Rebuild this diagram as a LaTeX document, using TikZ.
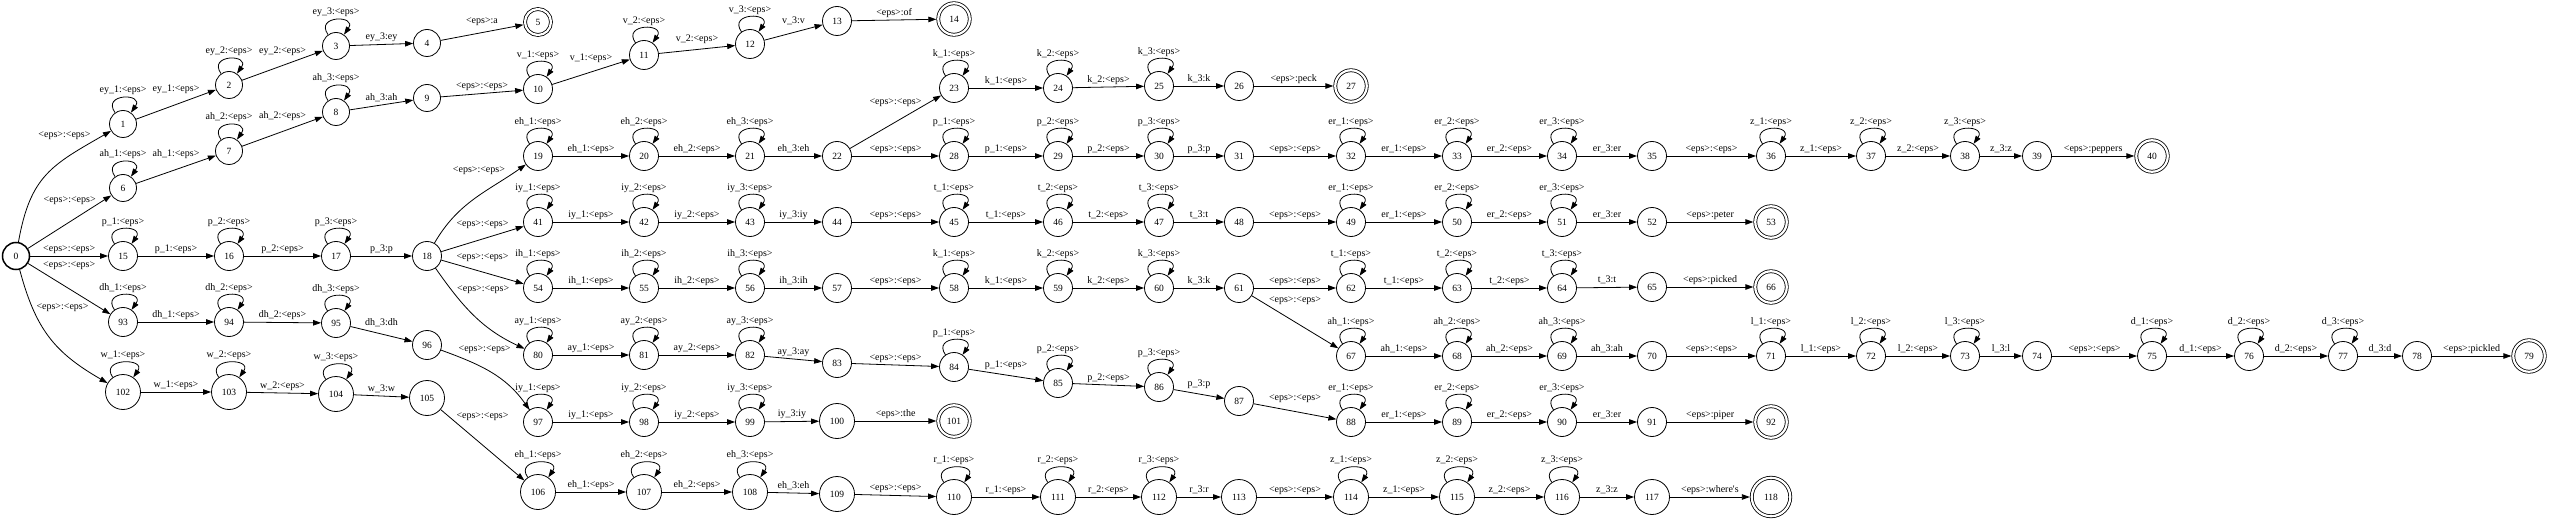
\documentclass[tikz,border=0pt]{standalone}
\usepackage{fontspec}
\setmainfont{Liberation Serif}
\usepackage{tikz}
\usetikzlibrary{arrows.meta}
\tikzset{
  st/.style = {circle, draw=black, inner sep=0pt, minimum size=29pt,
    font=\fontsize{9.5}{10}\selectfont},% plain state, two digits
  stsm/.style = {st, minimum size=27pt},% one digit
  stbig/.style = {st, minimum size=35pt},% three digits
  stinit/.style = {stsm, line width=1.5pt},% start state (bold ring)
  fin/.style = {st, double, double distance=2.2pt, outer sep=1.9pt,
    minimum size=31.5pt},% final state (double ring)
  lbl/.style = {font=\fontsize{10}{11}\selectfont, inner sep=0.5pt,
    text height=7pt, text depth=2pt, above=2pt},% arc label
  selfloop/.style = {out=125, in=55, min distance=24pt, max distance=24pt}% loop on top
}

\begin{document}
\begin{tikzpicture}[->,>={Triangle[length=8pt,width=5.5pt]},line width=0.8pt,x=1pt,y=1pt]
\useasboundingbox (0,-521) rectangle (2550,0);

% states
\node [stinit] (n0) at (16,-256) {0};
\node [stsm] (n1) at (123,-124) {1};
\node [stsm] (n2) at (229,-85) {2};
\node [stsm] (n3) at (336,-46) {3};
\node [stsm] (n4) at (427,-43) {4};
\node [fin, minimum size=26pt] (n5) at (538,-22) {5};
\node [stsm] (n6) at (123,-188) {6};
\node [stsm] (n7) at (229,-151) {7};
\node [stsm] (n8) at (336,-112) {8};
\node [stsm] (n9) at (427,-98) {9};
\node [st] (n10) at (538,-89) {10};
\node [st] (n11) at (644,-55) {11};
\node [st] (n12) at (750,-44) {12};
\node [st] (n13) at (837,-21) {13};
\node [fin] (n14) at (954,-19) {14};
\node [st] (n15) at (123,-256) {15};
\node [st] (n16) at (229,-256) {16};
\node [st] (n17) at (336,-256) {17};
\node [st] (n18) at (427,-256) {18};
\node [st] (n19) at (538,-156) {19};
\node [st] (n20) at (644,-156) {20};
\node [st] (n21) at (750,-156) {21};
\node [st] (n22) at (837,-156) {22};
\node [st] (n23) at (954,-88) {23};
\node [st] (n24) at (1058,-88) {24};
\node [st] (n25) at (1159,-86) {25};
\node [st] (n26) at (1239,-86) {26};
\node [fin] (n27) at (1351,-86) {27};
\node [st] (n28) at (954,-156) {28};
\node [st] (n29) at (1058,-156) {29};
\node [st] (n30) at (1159,-156) {30};
\node [st] (n31) at (1239,-156) {31};
\node [st] (n32) at (1351,-156) {32};
\node [st] (n33) at (1457,-156) {33};
\node [st] (n34) at (1562,-156) {34};
\node [st] (n35) at (1652,-156) {35};
\node [st] (n36) at (1771,-156) {36};
\node [st] (n37) at (1871,-156) {37};
\node [st] (n38) at (1965,-156) {38};
\node [st] (n39) at (2037,-156) {39};
\node [fin] (n40) at (2152,-156) {40};
\node [st] (n41) at (538,-222) {41};
\node [st] (n42) at (644,-222) {42};
\node [st] (n43) at (750,-222) {43};
\node [st] (n44) at (837,-222) {44};
\node [st] (n45) at (954,-222) {45};
\node [st] (n46) at (1058,-222) {46};
\node [st] (n47) at (1159,-222) {47};
\node [st] (n48) at (1239,-222) {48};
\node [st] (n49) at (1351,-222) {49};
\node [st] (n50) at (1457,-222) {50};
\node [st] (n51) at (1562,-222) {51};
\node [st] (n52) at (1652,-222) {52};
\node [fin] (n53) at (1771,-222) {53};
\node [st] (n54) at (538,-288) {54};
\node [st] (n55) at (644,-288) {55};
\node [st] (n56) at (750,-288) {56};
\node [st] (n57) at (837,-288) {57};
\node [st] (n58) at (954,-288) {58};
\node [st] (n59) at (1058,-288) {59};
\node [st] (n60) at (1159,-288) {60};
\node [st] (n61) at (1239,-288) {61};
\node [st] (n62) at (1351,-288) {62};
\node [st] (n63) at (1457,-288) {63};
\node [st] (n64) at (1562,-288) {64};
\node [st] (n65) at (1652,-287) {65};
\node [fin] (n66) at (1771,-287) {66};
\node [st] (n67) at (1351,-356) {67};
\node [st] (n68) at (1457,-356) {68};
\node [st] (n69) at (1562,-356) {69};
\node [st] (n70) at (1652,-356) {70};
\node [st] (n71) at (1771,-356) {71};
\node [st] (n72) at (1871,-356) {72};
\node [st] (n73) at (1965,-356) {73};
\node [st] (n74) at (2037,-356) {74};
\node [st] (n75) at (2152,-356) {75};
\node [st] (n76) at (2249,-356) {76};
\node [st] (n77) at (2343,-356) {77};
\node [st] (n78) at (2417,-356) {78};
\node [fin] (n79) at (2529,-356) {79};
\node [st] (n80) at (538,-355) {80};
\node [st] (n81) at (644,-355) {81};
\node [st] (n82) at (750,-355) {82};
\node [st] (n83) at (837,-363) {83};
\node [st] (n84) at (954,-367) {84};
\node [st] (n85) at (1058,-383) {85};
\node [st] (n86) at (1159,-387) {86};
\node [st] (n87) at (1239,-401) {87};
\node [st] (n88) at (1351,-422) {88};
\node [st] (n89) at (1457,-422) {89};
\node [st] (n90) at (1562,-422) {90};
\node [st] (n91) at (1652,-422) {91};
\node [fin] (n92) at (1771,-422) {92};
\node [st] (n93) at (123,-322) {93};
\node [st] (n94) at (229,-322) {94};
\node [st] (n95) at (336,-323) {95};
\node [st] (n96) at (427,-345) {96};
\node [st] (n97) at (538,-422) {97};
\node [st] (n98) at (644,-422) {98};
\node [st] (n99) at (750,-422) {99};
\node [stbig] (n100) at (837,-421) {100};
\node [fin] (n101) at (954,-421) {101};
\node [stbig] (n102) at (123,-392) {102};
\node [stbig] (n103) at (229,-392) {103};
\node [stbig] (n104) at (336,-394) {104};
\node [stbig] (n105) at (427,-398) {105};
\node [stbig] (n106) at (538,-492) {106};
\node [stbig] (n107) at (644,-492) {107};
\node [stbig] (n108) at (750,-492) {108};
\node [stbig] (n109) at (837,-494) {109};
\node [stbig] (n110) at (954,-497) {110};
\node [stbig] (n111) at (1058,-497) {111};
\node [stbig] (n112) at (1159,-497) {112};
\node [stbig] (n113) at (1239,-497) {113};
\node [stbig] (n114) at (1351,-497) {114};
\node [stbig] (n115) at (1457,-497) {115};
\node [stbig] (n116) at (1562,-497) {116};
\node [stbig] (n117) at (1652,-497) {117};
\node [fin, minimum size=38.5pt] (n118) at (1771,-497) {118};

% a
\draw (n0) to[out=80, in=210, looseness=1.2] node[lbl, pos=.88, anchor=south east] {<eps>:<eps>} (n1);
\draw (n1) edge[selfloop] node[lbl] {ey\_1:<eps>} (n1)
      (n1) edge node[lbl, above=8.5pt] {ey\_1:<eps>} (n2)
      (n2) edge[selfloop] node[lbl] {ey\_2:<eps>} (n2)
      (n2) edge node[lbl, above=7.5pt] {ey\_2:<eps>} (n3)
      (n3) edge[selfloop] node[lbl] {ey\_3:<eps>} (n3)
      (n3) edge node[lbl] {ey\_3:ey} (n4)
      (n4) edge node[lbl, above=4.5pt] {<eps>:a} (n5);

% of
\draw (n0) edge node[lbl, above=15pt] {<eps>:<eps>} (n6)
      (n6) edge[selfloop] node[lbl] {ah\_1:<eps>} (n6)
      (n6) edge node[lbl, above=8.5pt] {ah\_1:<eps>} (n7)
      (n7) edge[selfloop] node[lbl] {ah\_2:<eps>} (n7)
      (n7) edge node[lbl, above=8pt] {ah\_2:<eps>} (n8)
      (n8) edge[selfloop] node[lbl] {ah\_3:<eps>} (n8)
      (n8) edge node[lbl] {ah\_3:ah} (n9)
      (n9) edge node[lbl] {<eps>:<eps>} (n10)
      (n10) edge[selfloop] node[lbl] {v\_1:<eps>} (n10)
      (n10) edge node[lbl, above=7pt] {v\_1:<eps>} (n11)
      (n11) edge[selfloop] node[lbl] {v\_2:<eps>} (n11)
      (n11) edge node[lbl, above=3pt] {v\_2:<eps>} (n12)
      (n12) edge[selfloop] node[lbl] {v\_3:<eps>} (n12)
      (n12) edge node[lbl, above=4.5pt] {v\_3:v} (n13)
      (n13) edge node[lbl] {<eps>:of} (n14);

% p
\draw (n0) edge node[lbl] {<eps>:<eps>} (n15)
      (n15) edge[selfloop] node[lbl] {p\_1:<eps>} (n15)
      (n15) edge node[lbl] {p\_1:<eps>} (n16)
      (n16) edge[selfloop] node[lbl] {p\_2:<eps>} (n16)
      (n16) edge node[lbl] {p\_2:<eps>} (n17)
      (n17) edge[selfloop] node[lbl] {p\_3:<eps>} (n17)
      (n17) edge node[lbl] {p\_3:p} (n18);

% peck, peppers
\draw (n18) to[out=60, in=215] node[lbl, pos=.82, anchor=south east] {<eps>:<eps>} (n19);
\draw (n19) edge[selfloop] node[lbl] {eh\_1:<eps>} (n19)
      (n19) edge node[lbl] {eh\_1:<eps>} (n20)
      (n20) edge[selfloop] node[lbl] {eh\_2:<eps>} (n20)
      (n20) edge node[lbl] {eh\_2:<eps>} (n21)
      (n21) edge[selfloop] node[lbl] {eh\_3:<eps>} (n21)
      (n21) edge node[lbl] {eh\_3:eh} (n22)
      (n22) edge node[lbl, above=13pt] {<eps>:<eps>} (n23)
      (n23) edge[selfloop] node[lbl] {k\_1:<eps>} (n23)
      (n23) edge node[lbl] {k\_1:<eps>} (n24)
      (n24) edge[selfloop] node[lbl] {k\_2:<eps>} (n24)
      (n24) edge node[lbl] {k\_2:<eps>} (n25)
      (n25) edge[selfloop] node[lbl] {k\_3:<eps>} (n25)
      (n25) edge node[lbl] {k\_3:k} (n26)
      (n26) edge node[lbl] {<eps>:peck} (n27)
      (n22) edge node[lbl] {<eps>:<eps>} (n28)
      (n28) edge[selfloop] node[lbl] {p\_1:<eps>} (n28)
      (n28) edge node[lbl] {p\_1:<eps>} (n29)
      (n29) edge[selfloop] node[lbl] {p\_2:<eps>} (n29)
      (n29) edge node[lbl] {p\_2:<eps>} (n30)
      (n30) edge[selfloop] node[lbl] {p\_3:<eps>} (n30)
      (n30) edge node[lbl] {p\_3:p} (n31)
      (n31) edge node[lbl] {<eps>:<eps>} (n32)
      (n32) edge[selfloop] node[lbl] {er\_1:<eps>} (n32)
      (n32) edge node[lbl] {er\_1:<eps>} (n33)
      (n33) edge[selfloop] node[lbl] {er\_2:<eps>} (n33)
      (n33) edge node[lbl] {er\_2:<eps>} (n34)
      (n34) edge[selfloop] node[lbl] {er\_3:<eps>} (n34)
      (n34) edge node[lbl] {er\_3:er} (n35)
      (n35) edge node[lbl] {<eps>:<eps>} (n36)
      (n36) edge[selfloop] node[lbl] {z\_1:<eps>} (n36)
      (n36) edge node[lbl] {z\_1:<eps>} (n37)
      (n37) edge[selfloop] node[lbl] {z\_2:<eps>} (n37)
      (n37) edge node[lbl] {z\_2:<eps>} (n38)
      (n38) edge[selfloop] node[lbl] {z\_3:<eps>} (n38)
      (n38) edge node[lbl] {z\_3:z} (n39)
      (n39) edge node[lbl] {<eps>:peppers} (n40);

% peter
\draw (n18) edge node[lbl, above=8pt] {<eps>:<eps>} (n41)
      (n41) edge[selfloop] node[lbl] {iy\_1:<eps>} (n41)
      (n41) edge node[lbl] {iy\_1:<eps>} (n42)
      (n42) edge[selfloop] node[lbl] {iy\_2:<eps>} (n42)
      (n42) edge node[lbl] {iy\_2:<eps>} (n43)
      (n43) edge[selfloop] node[lbl] {iy\_3:<eps>} (n43)
      (n43) edge node[lbl] {iy\_3:iy} (n44)
      (n44) edge node[lbl] {<eps>:<eps>} (n45)
      (n45) edge[selfloop] node[lbl] {t\_1:<eps>} (n45)
      (n45) edge node[lbl] {t\_1:<eps>} (n46)
      (n46) edge[selfloop] node[lbl] {t\_2:<eps>} (n46)
      (n46) edge node[lbl] {t\_2:<eps>} (n47)
      (n47) edge[selfloop] node[lbl] {t\_3:<eps>} (n47)
      (n47) edge node[lbl] {t\_3:t} (n48)
      (n48) edge node[lbl] {<eps>:<eps>} (n49)
      (n49) edge[selfloop] node[lbl] {er\_1:<eps>} (n49)
      (n49) edge node[lbl] {er\_1:<eps>} (n50)
      (n50) edge[selfloop] node[lbl] {er\_2:<eps>} (n50)
      (n50) edge node[lbl] {er\_2:<eps>} (n51)
      (n51) edge[selfloop] node[lbl] {er\_3:<eps>} (n51)
      (n51) edge node[lbl] {er\_3:er} (n52)
      (n52) edge node[lbl] {<eps>:peter} (n53);

% picked, pickled
\draw (n18) edge node[lbl, above=8pt] {<eps>:<eps>} (n54)
      (n54) edge[selfloop] node[lbl] {ih\_1:<eps>} (n54)
      (n54) edge node[lbl] {ih\_1:<eps>} (n55)
      (n55) edge[selfloop] node[lbl] {ih\_2:<eps>} (n55)
      (n55) edge node[lbl] {ih\_2:<eps>} (n56)
      (n56) edge[selfloop] node[lbl] {ih\_3:<eps>} (n56)
      (n56) edge node[lbl] {ih\_3:ih} (n57)
      (n57) edge node[lbl] {<eps>:<eps>} (n58)
      (n58) edge[selfloop] node[lbl] {k\_1:<eps>} (n58)
      (n58) edge node[lbl] {k\_1:<eps>} (n59)
      (n59) edge[selfloop] node[lbl] {k\_2:<eps>} (n59)
      (n59) edge node[lbl] {k\_2:<eps>} (n60)
      (n60) edge[selfloop] node[lbl] {k\_3:<eps>} (n60)
      (n60) edge node[lbl] {k\_3:k} (n61)
      (n61) edge node[lbl] {<eps>:<eps>} (n62)
      (n62) edge[selfloop] node[lbl] {t\_1:<eps>} (n62)
      (n62) edge node[lbl] {t\_1:<eps>} (n63)
      (n63) edge[selfloop] node[lbl] {t\_2:<eps>} (n63)
      (n63) edge node[lbl] {t\_2:<eps>} (n64)
      (n64) edge[selfloop] node[lbl] {t\_3:<eps>} (n64)
      (n64) edge node[lbl] {t\_3:t} (n65)
      (n65) edge node[lbl] {<eps>:picked} (n66)
      (n61) edge node[lbl, above=14.5pt] {<eps>:<eps>} (n67)
      (n67) edge[selfloop] node[lbl] {ah\_1:<eps>} (n67)
      (n67) edge node[lbl] {ah\_1:<eps>} (n68)
      (n68) edge[selfloop] node[lbl] {ah\_2:<eps>} (n68)
      (n68) edge node[lbl] {ah\_2:<eps>} (n69)
      (n69) edge[selfloop] node[lbl] {ah\_3:<eps>} (n69)
      (n69) edge node[lbl] {ah\_3:ah} (n70)
      (n70) edge node[lbl] {<eps>:<eps>} (n71)
      (n71) edge[selfloop] node[lbl] {l\_1:<eps>} (n71)
      (n71) edge node[lbl] {l\_1:<eps>} (n72)
      (n72) edge[selfloop] node[lbl] {l\_2:<eps>} (n72)
      (n72) edge node[lbl] {l\_2:<eps>} (n73)
      (n73) edge[selfloop] node[lbl] {l\_3:<eps>} (n73)
      (n73) edge node[lbl] {l\_3:l} (n74)
      (n74) edge node[lbl] {<eps>:<eps>} (n75)
      (n75) edge[selfloop] node[lbl] {d\_1:<eps>} (n75)
      (n75) edge node[lbl] {d\_1:<eps>} (n76)
      (n76) edge[selfloop] node[lbl] {d\_2:<eps>} (n76)
      (n76) edge node[lbl] {d\_2:<eps>} (n77)
      (n77) edge[selfloop] node[lbl] {d\_3:<eps>} (n77)
      (n77) edge node[lbl] {d\_3:d} (n78)
      (n78) edge node[lbl] {<eps>:pickled} (n79);

% piper
\draw (n18) to[out=-55, in=155] node[lbl, pos=.27, anchor=south west] {<eps>:<eps>} (n80);
\draw (n80) edge[selfloop] node[lbl] {ay\_1:<eps>} (n80)
      (n80) edge node[lbl] {ay\_1:<eps>} (n81)
      (n81) edge[selfloop] node[lbl] {ay\_2:<eps>} (n81)
      (n81) edge node[lbl] {ay\_2:<eps>} (n82)
      (n82) edge[selfloop] node[lbl] {ay\_3:<eps>} (n82)
      (n82) edge node[lbl] {ay\_3:ay} (n83)
      (n83) edge node[lbl] {<eps>:<eps>} (n84)
      (n84) edge[selfloop] node[lbl] {p\_1:<eps>} (n84)
      (n84) edge node[lbl, above=3pt] {p\_1:<eps>} (n85)
      (n85) edge[selfloop] node[lbl] {p\_2:<eps>} (n85)
      (n85) edge node[lbl] {p\_2:<eps>} (n86)
      (n86) edge[selfloop] node[lbl] {p\_3:<eps>} (n86)
      (n86) edge node[lbl, above=2.5pt] {p\_3:p} (n87)
      (n87) edge node[lbl, above=6.5pt] {<eps>:<eps>} (n88)
      (n88) edge[selfloop] node[lbl] {er\_1:<eps>} (n88)
      (n88) edge node[lbl] {er\_1:<eps>} (n89)
      (n89) edge[selfloop] node[lbl] {er\_2:<eps>} (n89)
      (n89) edge node[lbl] {er\_2:<eps>} (n90)
      (n90) edge[selfloop] node[lbl] {er\_3:<eps>} (n90)
      (n90) edge node[lbl] {er\_3:er} (n91)
      (n91) edge node[lbl] {<eps>:piper} (n92);

% the
\draw (n0) edge node[lbl, above=16pt] {<eps>:<eps>} (n93)
      (n93) edge[selfloop] node[lbl] {dh\_1:<eps>} (n93)
      (n93) edge node[lbl] {dh\_1:<eps>} (n94)
      (n94) edge[selfloop] node[lbl] {dh\_2:<eps>} (n94)
      (n94) edge node[lbl] {dh\_2:<eps>} (n95)
      (n95) edge[selfloop] node[lbl] {dh\_3:<eps>} (n95)
      (n95) edge node[lbl, above=4pt] {dh\_3:dh} (n96);
\draw (n96) to[out=-20, in=125] node[lbl, pos=.15, anchor=south west] {<eps>:<eps>} (n97);
\draw (n97) edge[selfloop] node[lbl] {iy\_1:<eps>} (n97)
      (n97) edge node[lbl] {iy\_1:<eps>} (n98)
      (n98) edge[selfloop] node[lbl] {iy\_2:<eps>} (n98)
      (n98) edge node[lbl] {iy\_2:<eps>} (n99)
      (n99) edge[selfloop] node[lbl] {iy\_3:<eps>} (n99)
      (n99) edge node[lbl] {iy\_3:iy} (n100)
      (n100) edge node[lbl] {<eps>:the} (n101);

% where's
\draw (n0) to[out=-75, in=150, looseness=1.1] node[lbl, pos=.3, anchor=south west] {<eps>:<eps>} (n102);
\draw (n102) edge[selfloop] node[lbl] {w\_1:<eps>} (n102)
      (n102) edge node[lbl] {w\_1:<eps>} (n103)
      (n103) edge[selfloop] node[lbl] {w\_2:<eps>} (n103)
      (n103) edge node[lbl] {w\_2:<eps>} (n104)
      (n104) edge[selfloop] node[lbl] {w\_3:<eps>} (n104)
      (n104) edge node[lbl] {w\_3:w} (n105)
      (n105) edge node[lbl, above=22pt] {<eps>:<eps>} (n106)
      (n106) edge[selfloop] node[lbl] {eh\_1:<eps>} (n106)
      (n106) edge node[lbl] {eh\_1:<eps>} (n107)
      (n107) edge[selfloop] node[lbl] {eh\_2:<eps>} (n107)
      (n107) edge node[lbl] {eh\_2:<eps>} (n108)
      (n108) edge[selfloop] node[lbl] {eh\_3:<eps>} (n108)
      (n108) edge node[lbl] {eh\_3:eh} (n109)
      (n109) edge node[lbl] {<eps>:<eps>} (n110)
      (n110) edge[selfloop] node[lbl] {r\_1:<eps>} (n110)
      (n110) edge node[lbl] {r\_1:<eps>} (n111)
      (n111) edge[selfloop] node[lbl] {r\_2:<eps>} (n111)
      (n111) edge node[lbl] {r\_2:<eps>} (n112)
      (n112) edge[selfloop] node[lbl] {r\_3:<eps>} (n112)
      (n112) edge node[lbl] {r\_3:r} (n113)
      (n113) edge node[lbl] {<eps>:<eps>} (n114)
      (n114) edge[selfloop] node[lbl] {z\_1:<eps>} (n114)
      (n114) edge node[lbl] {z\_1:<eps>} (n115)
      (n115) edge[selfloop] node[lbl] {z\_2:<eps>} (n115)
      (n115) edge node[lbl] {z\_2:<eps>} (n116)
      (n116) edge[selfloop] node[lbl] {z\_3:<eps>} (n116)
      (n116) edge node[lbl] {z\_3:z} (n117)
      (n117) edge node[lbl] {<eps>:where\textquotesingle s} (n118);
\end{tikzpicture}
\end{document}
